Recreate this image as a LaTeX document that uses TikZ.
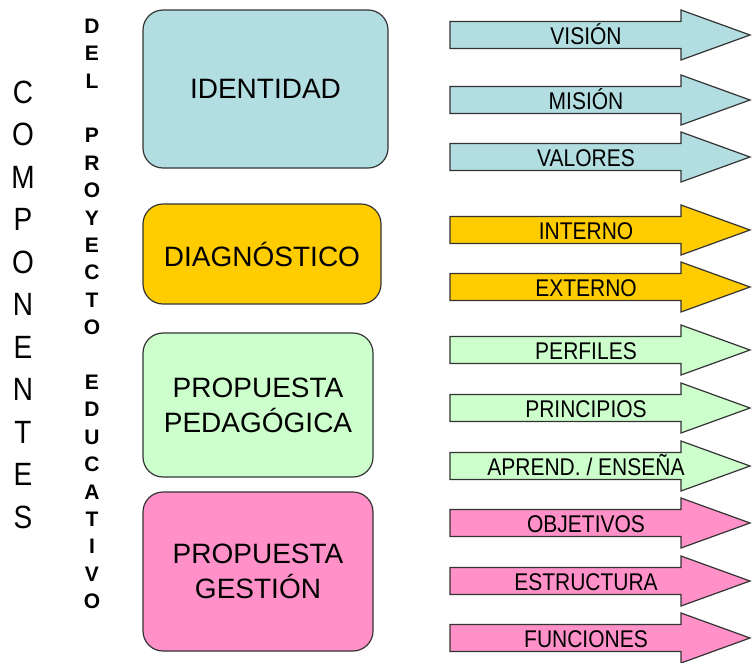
\documentclass[tikz,border=0pt]{standalone}
\usepackage{fontspec}
\setmainfont{Liberation Sans}
\definecolor{identidad}{RGB}{178,222,226}
\definecolor{diagnostico}{RGB}{255,204,0}
\definecolor{pedagogica}{RGB}{204,255,204}
\definecolor{gestion}{RGB}{255,145,200}
\newcommand*{\alto}[1]{\scalebox{1}[1.15]{#1}}

\begin{document}
\begin{tikzpicture}[x=1pt,y=-1pt,
	caja/.style={draw=black!80,line width=1.2pt,rounded corners=20pt,align=center,
	             font=\fontsize{28}{35}\selectfont},
	flecha/.style={draw=black!80,line width=1.2pt},
	rotulo/.style={anchor=base,font=\fontsize{21}{21}\selectfont},
	comp/.style={font=\fontsize{28}{28}\selectfont},
	proy/.style={font=\bfseries\fontsize{21}{21}\selectfont}]
	\useasboundingbox (0,0) rectangle (752,662);
	% letras verticales
	\foreach \c [count=\k from 0] in {C,O,M,P,O,N,E,N,T,E,S}
		\node[comp] (comp\k) at (23,92+42.5*\k) {\alto{\c}};
	\foreach \c [count=\k from 0] in {D,E,L,~,P,R,O,Y,E,C,T,O,~,E,D,U,C,A,T,I,V,O}
		\node[proy] (proy\k) at (92,26+27.4*\k) {\c};
	% cajas
	\node[caja,fill=identidad,  minimum width=245pt,minimum height=158pt] (ident) at (265.5,89)  {IDENTIDAD};
	\node[caja,fill=diagnostico,minimum width=238pt,minimum height=100pt] (diag)  at (262,254)   {DIAGNÓSTICO};
	\node[caja,fill=pedagogica, minimum width=230pt,minimum height=144pt] (pedag) at (258,405)   {PROPUESTA\\PEDAGÓGICA};
	\node[caja,fill=gestion,    minimum width=230pt,minimum height=159pt] (gest)  at (258,571.5) {PROPUESTA\\GESTIÓN};
	% flechas
	\foreach \y/\txt/\col [count=\i] in {35/VISIÓN/identidad,100/MISIÓN/identidad,157/VALORES/identidad,
	                                     230/INTERNO/diagnostico,287/EXTERNO/diagnostico,
	                                     350/PERFILES/pedagogica,408/PRINCIPIOS/pedagogica,466/{APREND. / ENSEÑA}/pedagogica,
	                                     523/OBJETIVOS/gestion,581/ESTRUCTURA/gestion,638/FUNCIONES/gestion}{
		\draw[flecha,fill=\col] (450,\y-13.5) -- (681,\y-13.5) -- (681,\y-25) -- (750,\y)
		                        -- (681,\y+25) -- (681,\y+13.5) -- (450,\y+13.5) -- cycle;
		\node[rotulo] (rot\i) at (586,\y+9) {\alto{\txt}};
	}
\end{tikzpicture}
\end{document}
